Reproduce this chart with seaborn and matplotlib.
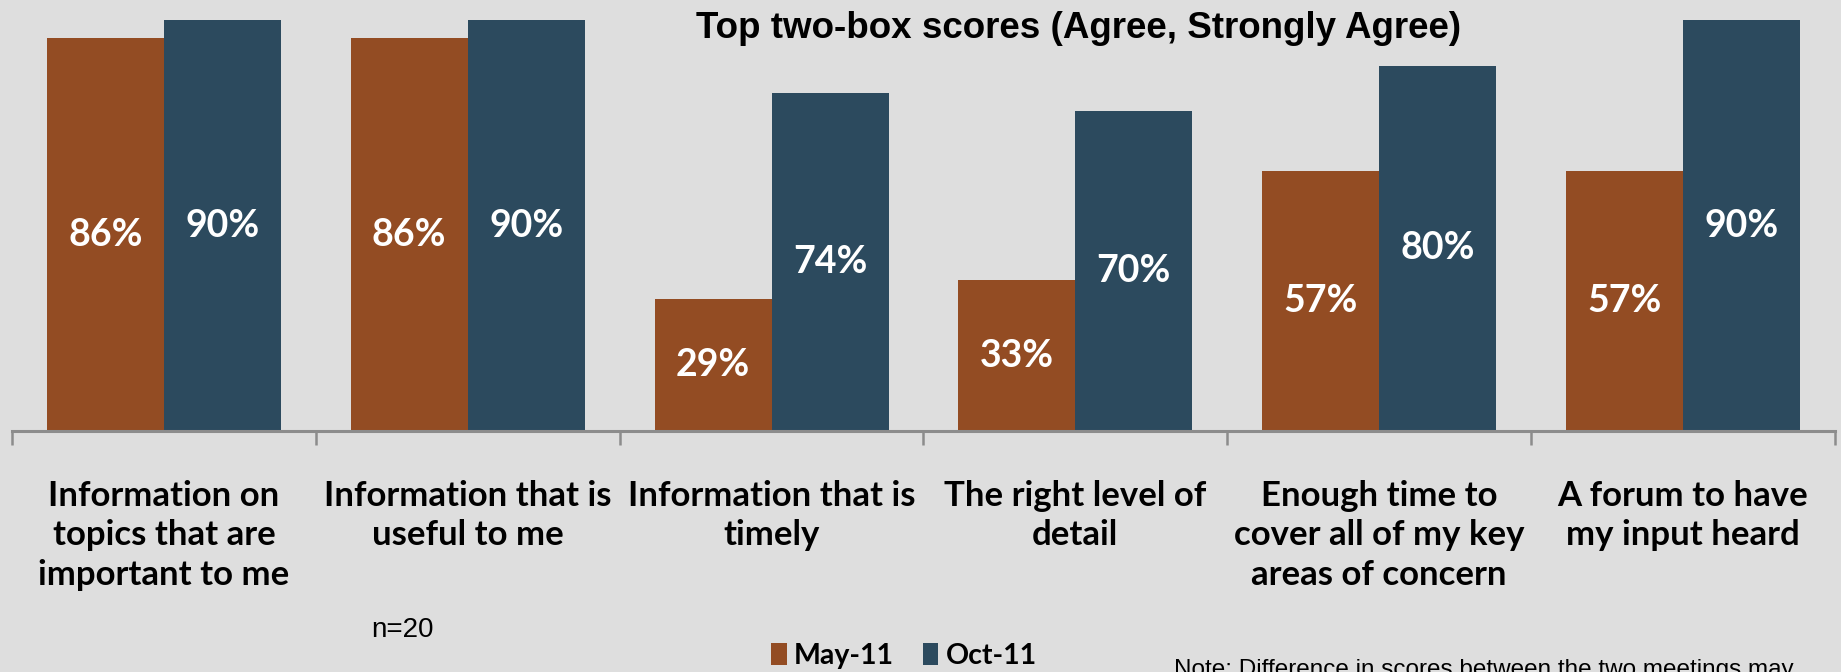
import pandas as pd
import matplotlib.pyplot as plt
import seaborn as sns

# survey items (x axis)
categories = [
    "Information on\ntopics that are\nimportant to me",
    "Information that is\nuseful to me",
    "Information that is\ntimely",
    "The right level of\ndetail",
    "Enough time to\ncover all of my key\nareas of concern",
    "A forum to have\nmy input heard",
]
periods = ["May-11", "Oct-11"]
may_scores = [86, 86, 29, 33, 57, 57]
oct_scores = [90, 90, 74, 70, 80, 90]

colors = {"May-11": "#934C23", "Oct-11": "#2C4A5E"}
bg = "#DEDEDE"

rows = []
for cat, m, o in zip(categories, may_scores, oct_scores):
    rows.append({"item": cat, "period": "May-11", "score": m / 100})
    rows.append({"item": cat, "period": "Oct-11", "score": o / 100})
df = pd.DataFrame(rows)

sns.set_style("white")
plt.rcParams["font.family"] = ["Lato", "DejaVu Sans"]
plt.rcParams["text.color"] = "black"

fig = plt.figure(figsize=(18.41, 6.72), dpi=100, facecolor=bg)
ax = fig.add_axes([0.0065, 0.3586, 0.9902, 0.6116])
ax.set_facecolor(bg)

sns.barplot(data=df, x="item", y="score", hue="period", hue_order=periods,
            palette=colors, width=0.77, saturation=1, errorbar=None,
            linewidth=0, ax=ax)

# percentage labels inside the bars
for cont, vals in zip(ax.containers, [may_scores, oct_scores]):
    ax.bar_label(cont, labels=[f"{v}%" for v in vals], label_type="center",
                 color="white", fontsize=27, fontweight="bold")

ax.set_ylim(0, 0.9)
ax.set_xlim(-0.5, len(categories) - 0.5)
ax.set_yticks([])
ax.set_xlabel("")
ax.set_ylabel("")
for s in ["top", "left", "right"]:
    ax.spines[s].set_visible(False)
ax.spines["bottom"].set_color("#8C8C8C")
ax.spines["bottom"].set_linewidth(2.2)

# category labels at the centres, tick marks at the boundaries
ax.set_xticks(range(len(categories)))
ax.set_xticklabels(categories, fontsize=25, fontweight="bold", linespacing=1.3,
                   color="black")
ax.set_xticks([i - 0.5 for i in range(len(categories) + 1)], minor=True)
ax.tick_params(axis="x", which="major", bottom=False, length=0, pad=35)
ax.tick_params(axis="x", which="minor", bottom=True, length=10, width=1.8,
               color="#8C8C8C")

ax.get_legend().remove()
handles, labels = ax.get_legend_handles_labels()
fig.legend(handles, labels, loc="center", bbox_to_anchor=(0.491, 0.024), ncol=2,
           frameon=False, prop={"family": "Lato", "weight": "bold", "size": 20.5},
           handlelength=0.55, handleheight=0.8, handletextpad=0.25, columnspacing=1.0)

fig.text(0.5856, 0.957, "Top two-box scores (Agree, Strongly Agree)",
         ha="center", va="center", fontsize=26.5, fontweight="bold",
         family="Liberation Sans", color="black")
fig.text(0.2185, 0.062, "n=20", ha="center", va="center", fontsize=20,
         family="Liberation Sans", color="black")
fig.text(0.6377, 0.0195, "Note: Difference in scores between the two meetings may",
         ha="left", va="top", fontsize=17.5, family="Liberation Sans", color="black")

fig.savefig("out.png", dpi=100, facecolor=bg)
